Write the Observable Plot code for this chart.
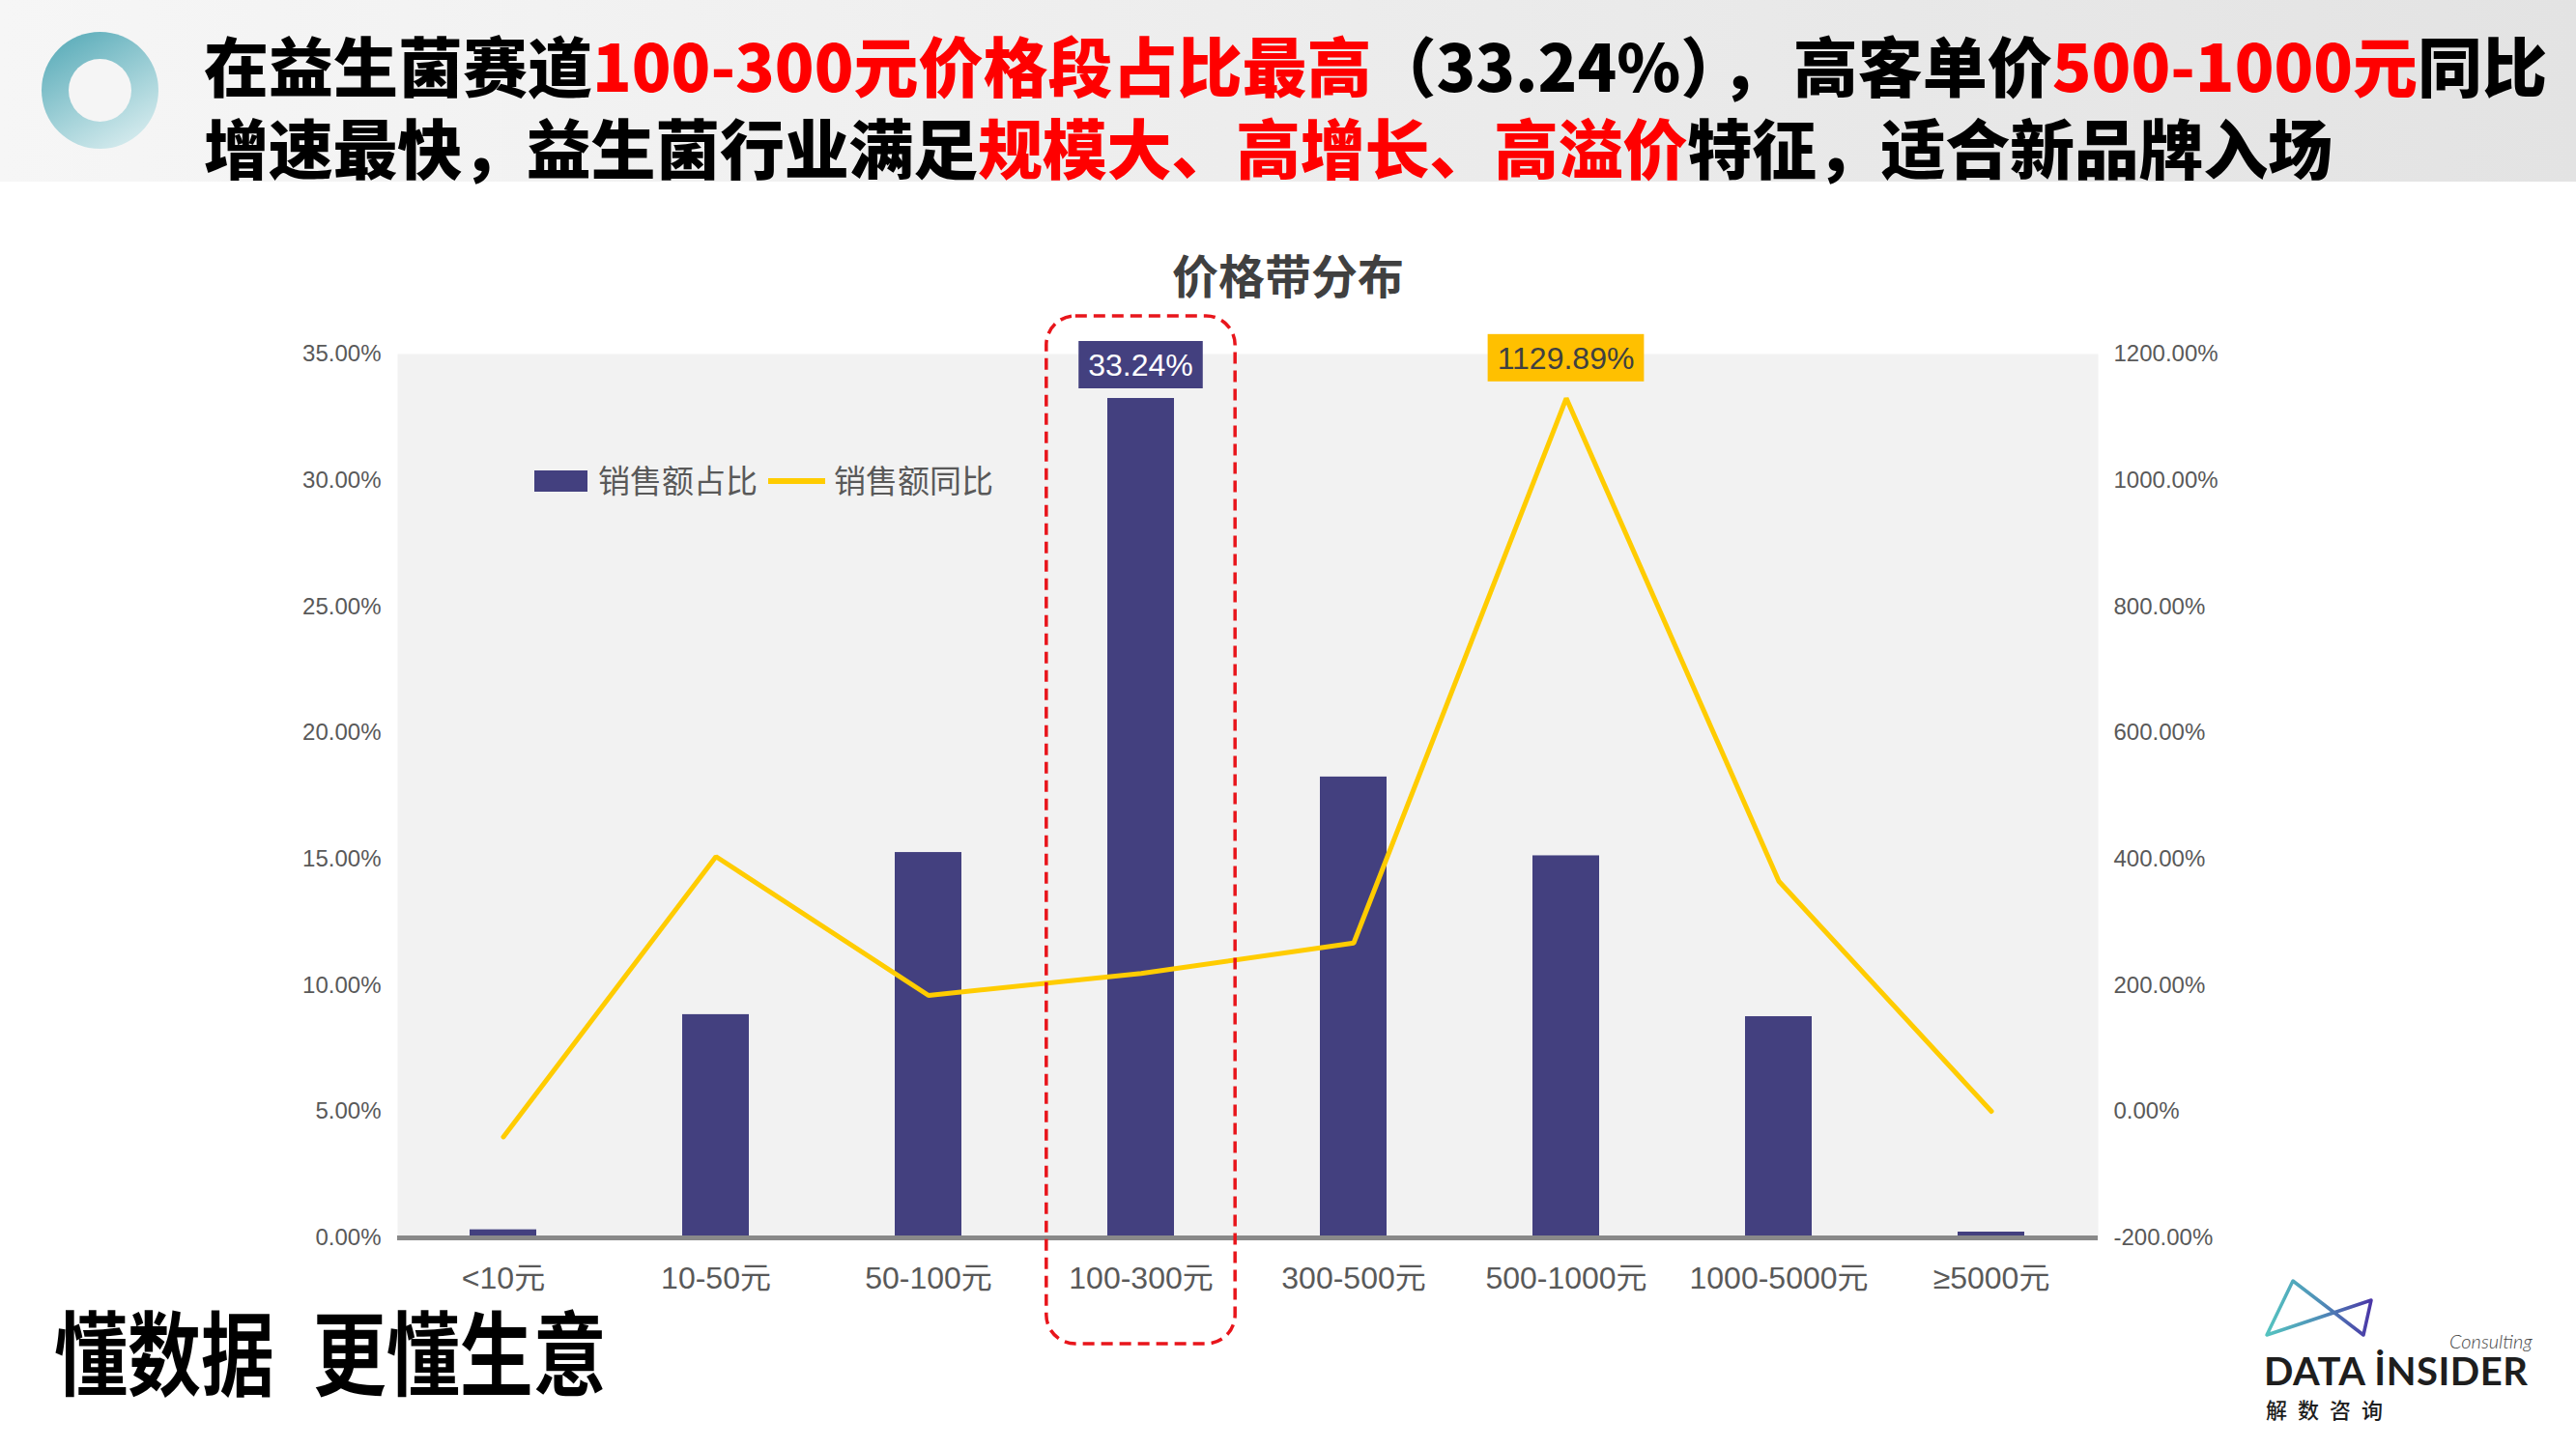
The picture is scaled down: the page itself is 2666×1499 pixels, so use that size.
<!DOCTYPE html>
<html><head><meta charset="utf-8">
<script src="https://cdn.jsdelivr.net/npm/d3@7"></script>
<script src="https://cdn.jsdelivr.net/npm/@observablehq/plot@0.6"></script>
<style>
html,body{margin:0;padding:0;background:#fff;}
#page{position:relative;width:2666px;height:1499px;overflow:hidden;font-family:"Liberation Sans","Noto Sans CJK SC",sans-serif;background:#fff;}
#header{position:absolute;left:0;top:0;width:2666px;height:188px;background:linear-gradient(to right,#f6f6f6,#e3e3e3);}
#ring{position:absolute;left:43px;top:33px;width:121px;height:121px;border-radius:50%;background:linear-gradient(150deg,#66b2be 15%,#a9d5db 60%,#e4f2f4 100%);}
#ring::after{content:"";position:absolute;left:28px;top:28px;width:65px;height:65px;border-radius:50%;background:#f5f5f5;}
.tline{position:absolute;left:211px;font-family:"Noto Sans CJK SC";font-weight:900;font-size:67px;line-height:1;white-space:nowrap;color:#000;}
.red{color:#ff0000;}
.gap{letter-spacing:8px;}
#ctitle{position:absolute;left:0;width:2666px;top:259px;text-align:center;font-family:"Noto Sans CJK SC";font-weight:700;font-size:48px;line-height:1;color:#404040;}
#chart{position:absolute;left:0;top:300px;}
.leg{position:absolute;font-family:"Noto Sans CJK SC";font-size:33px;line-height:1;color:#595959;white-space:nowrap;}
#footer{position:absolute;left:56px;top:1349px;font-family:"Noto Sans CJK SC";font-weight:700;font-size:95px;line-height:1;color:#000;white-space:nowrap;transform:scaleX(0.8);transform-origin:left top;word-spacing:28px;}
.logo{position:absolute;white-space:nowrap;line-height:1;}
</style></head>
<body>
<div id="page">
  <div id="header"></div>
  <div id="ring"></div>
  <div class="tline" style="top:32px">在益生菌赛道<span class="red">100-300元价格段占比最高</span>（33.24%<span class="gap">），</span>高客单价<span class="red">500-1000元</span>同比</div>
  <div class="tline" style="top:117px;letter-spacing:-0.25px">增速最快，益生菌行业满足<span class="red">规模大、高增长、高溢价</span>特征，适合新品牌入场</div>
  <div id="ctitle">价格带分布</div>
  <div id="chart"></div>
  <div id="legend"></div>
  <div id="footer">懂数据 更懂生意</div>
  <svg class="logo" style="left:2330px;top:1315px" width="140" height="80" viewBox="2330 1315 140 80">
    <defs><linearGradient id="lg" x1="2346" y1="0" x2="2456" y2="0" gradientUnits="userSpaceOnUse">
      <stop offset="0" stop-color="#55c3c0"/><stop offset="0.5" stop-color="#4f8fb8"/><stop offset="1" stop-color="#4a33a6"/></linearGradient></defs>
    <path d="M2373,1326 L2346,1382 L2454,1346 L2446,1382 Z" fill="none" stroke="url(#lg)" stroke-width="3.5" stroke-linejoin="round"/>
  </svg>
  <div class="logo" style="left:2535px;top:1378px;font-family:Lato;font-style:italic;font-weight:300;font-size:20px;color:#444;">Consulting</div>
  <div class="logo" style="left:2343px;top:1399px;font-family:Lato;font-weight:700;font-size:40px;letter-spacing:0.5px;color:#1e1e1e;">DATA İNSIDER</div>
  <div class="logo" style="left:2345px;top:1447px;font-family:'Noto Sans CJK SC';font-weight:500;font-size:22px;letter-spacing:11px;color:#1e1e1e;">解数咨询</div>
</div>
<script>
// ---- data ----
const categories = ["<10元","10-50元","50-100元","100-300元","300-500元","500-1000元","1000-5000元","≥5000元"];
const shareValues = [0.32, 8.84, 15.26, 33.24, 18.25, 15.13, 8.76, 0.23];   // 销售额占比 (%)
const growthValues = [-40, 404, 184, 219, 267, 1129.89, 365, 0.4];          // 销售额同比 (%)
const seriesNames = ["销售额占比", "销售额同比"];
const leftTicks = [0, 5, 10, 15, 20, 25, 30, 35];
const rightTicks = [-200, 0, 200, 400, 600, 800, 1000, 1200];
const barColor = "#43407f", lineColor = "#ffcc00", growthBox = "#ffc000";

// ---- dual axis mapping ----
const leftMax = d3.max(leftTicks), rMin = d3.min(rightTicks), rMax = d3.max(rightTicks);
const toLeft = g => (g - rMin) / (rMax - rMin) * leftMax;
const fromLeft = v => Math.round((v / leftMax * (rMax - rMin) + rMin) * 100) / 100;
const pct = v => (Math.abs(v) < 1e-9 ? 0 : v).toFixed(2) + "%";

const rows = categories.map((c, i) => ({cat: c, share: shareValues[i], growth: growthValues[i], growthL: toLeft(growthValues[i])}));

const W = 2666, H = 1100;
const plot = Plot.plot({
  width: W, height: H,
  marginLeft: 411, marginRight: 495, marginTop: 66, marginBottom: 119,
  style: {fontFamily: '"Liberation Sans","Noto Sans CJK SC",sans-serif', color: "#595959", background: "transparent", overflow: "visible"},
  x: {domain: categories, paddingInner: 0.686, paddingOuter: 0.343, label: null},
  y: {domain: [0, leftMax], label: null},
  marks: [
    Plot.frame({fill: "#f2f2f2", stroke: "none"}),
    Plot.barY(rows, {x: "cat", y: "share", fill: barColor}),
    Plot.ruleY([0], {stroke: "#898989", strokeWidth: 5}),
    Plot.line(rows, {x: "cat", y: "growthL", stroke: lineColor, strokeWidth: 5, strokeLinejoin: "miter"}),
    Plot.axisY(leftTicks, {anchor: "left", tickSize: 0, tickPadding: 17, fontSize: 24, tickFormat: d => pct(d), label: null}),
    Plot.axisY(rightTicks.map(toLeft), {anchor: "right", tickSize: 0, tickPadding: 16, fontSize: 24, tickFormat: d => pct(fromLeft(d)), label: null}),
    Plot.axisX({tickSize: 0, tickPadding: 30, fontSize: 32, label: null})
  ]
});
document.getElementById("chart").appendChild(plot);

// ---- annotations through the plot's scales ----
const xs = plot.scale("x"), ys = plot.scale("y");
const svg = d3.select(plot);
const cx = c => xs.apply(c) + xs.bandwidth / 2;
const iShare = d3.maxIndex(shareValues), iGrowth = d3.maxIndex(growthValues);

// dashed highlight box around the top-share category
const hc = categories[iShare];
svg.append("rect")
  .attr("x", cx(hc) - xs.step * 0.444).attr("width", xs.step * 0.888)
  .attr("y", ys.apply(leftMax) - 39).attr("height", ys.apply(0) + 110 - (ys.apply(leftMax) - 39))
  .attr("rx", 30).attr("fill", "none").attr("stroke", "#e8151b").attr("stroke-width", 3.5).attr("stroke-dasharray", "12 7");

function labelBox(x, yBottom, txt, fill, color) {
  const g = svg.append("g");
  const r = g.append("rect").attr("fill", fill);
  const t = g.append("text").attr("x", x).attr("text-anchor", "middle")
    .attr("font-size", 32).attr("fill", color).attr("font-family", '"Liberation Sans",sans-serif').text(txt);
  const h = 49;
  t.attr("y", yBottom - h / 2).attr("dy", "0.35em");
  const bb = t.node().getBBox();
  const w = bb.width + 20;
  r.attr("x", x - w / 2).attr("width", w).attr("y", yBottom - h).attr("height", h);
}
labelBox(cx(categories[iShare]), ys.apply(shareValues[iShare]) - 10, pct(shareValues[iShare]), barColor, "#ffffff");
labelBox(cx(categories[iGrowth]), ys.apply(toLeft(growthValues[iGrowth])) - 17, pct(growthValues[iGrowth]), growthBox, "#404040");

// ---- legend (HTML overlay) ----
const leg = document.getElementById("legend");
leg.innerHTML =
  `<div style="position:absolute;left:553px;top:487px;width:55px;height:22px;background:${barColor}"></div>` +
  `<div class="leg" style="left:619px;top:480px">${seriesNames[0]}</div>` +
  `<div style="position:absolute;left:795px;top:495px;width:59px;height:6px;background:${lineColor}"></div>` +
  `<div class="leg" style="left:863px;top:480px">${seriesNames[1]}</div>`;
</script>
</body></html>
